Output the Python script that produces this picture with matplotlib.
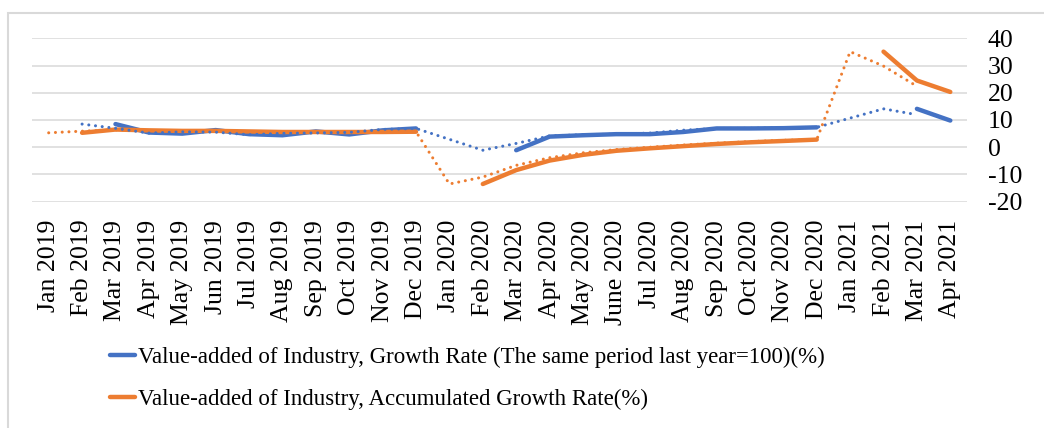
import numpy as np
import pandas as pd
import matplotlib.pyplot as plt
from matplotlib.patches import Rectangle

plt.rcParams['font.family'] = ['Liberation Serif', 'DejaVu Serif']
plt.rcParams['axes.unicode_minus'] = False

months = ['Jan 2019', 'Feb 2019', 'Mar 2019', 'Apr 2019', 'May 2019', 'Jun 2019',
          'Jul 2019', 'Aug 2019', 'Sep 2019', 'Oct 2019', 'Nov 2019', 'Dec 2019',
          'Jan 2020', 'Feb 2020', 'Mar 2020', 'Apr 2020', 'May 2020', 'June 2020',
          'Jul 2020', 'Aug 2020', 'Sep 2020', 'Oct 2020', 'Nov 2020', 'Dec 2020',
          'Jan 2021', 'Feb 2021', 'Mar 2021', 'Apr 2021']
nan = np.nan
growth = [nan, nan, 8.5, 5.4, 5.0, 6.3, 4.8, 4.4, 5.8, 4.7, 6.2, 6.9,
          nan, nan, -1.1, 3.9, 4.4, 4.8, 4.8, 5.6, 6.9, 6.9, 7.0, 7.3,
          nan, nan, 14.1, 9.8]
accum = [nan, 5.3, 6.5, 6.2, 6.0, 6.0, 5.8, 5.6, 5.6, 5.6, 5.6, 5.7,
         nan, -13.5, -8.4, -4.9, -2.8, -1.3, -0.4, 0.4, 1.2, 1.8, 2.3, 2.8,
         nan, 35.1, 24.5, 20.3]
labels = ['Value-added of Industry, Growth Rate (The same period last year=100)(%)',
          'Value-added of Industry, Accumulated Growth Rate(%)']

BLUE = '#4472C4'
ORANGE = '#ED7D31'

x = np.arange(len(months))
df = pd.DataFrame({'growth': growth, 'accum': accum}, index=x)
# 2-period moving average trendline (as the spreadsheet draws it)
trend = df.rolling(2, min_periods=1).mean().shift(-1)

fig = plt.figure(figsize=(10.44, 4.28), dpi=100)
ax = fig.add_axes([32/1044, 1-201.7/428, 935/1044, 163.4/428])

ax.plot(x, df['growth'], color=BLUE, lw=3.2, solid_capstyle='round', zorder=3, label=labels[0])
ax.plot(x, df['accum'], color=ORANGE, lw=3.2, solid_capstyle='round', zorder=4, label=labels[1])
for col, c, z in [('accum', ORANGE, 5), ('growth', BLUE, 6)]:
    t = trend[col].dropna()
    ax.plot(t.index, t.values, color=c, lw=2.2, dashes=(0.01, 2.2),
            dash_capstyle='round', zorder=z)

ax.set_xlim(-0.5, len(months)-0.5)
ax.set_ylim(-20, 40)
ax.set_yticks(np.arange(-20, 41, 10))
ax.yaxis.tick_right()
ax.grid(axis='y', color='#D9D9D9', lw=1.1)
ax.set_axisbelow(True)
ax.set_xticks(x)
ax.set_xticklabels(months, rotation=90)
ax.tick_params(axis='x', length=0, pad=13, labelsize=18.5)
ax.tick_params(axis='y', length=0, pad=15, labelsize=18.5)
for s in ax.spines.values():
    s.set_visible(False)

fig.legend(loc='upper left', bbox_to_anchor=(110/1044, 1-347/428), frameon=False,
           fontsize=16.5, handlelength=1.1, handletextpad=0.1, labelspacing=0.92,
           borderpad=0, borderaxespad=0)

# light frame on left / top edge
fig.add_artist(Rectangle((8/1044, -0.1), 1.2, 1-13/428+0.1, transform=fig.transFigure,
                         fill=False, edgecolor='#D9D9D9', lw=1.5))

fig.savefig('out.png', dpi=100)
